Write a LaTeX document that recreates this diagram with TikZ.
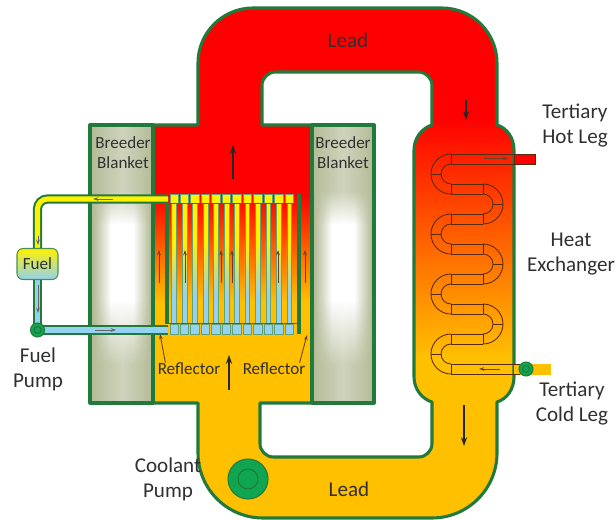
\documentclass[tikz,border=0pt]{standalone}
\usepackage{fontspec}
\setmainfont{Carlito}
\usepackage{tikz}
\usetikzlibrary{arrows, arrows.meta, fadings, positioning}

\definecolor{leadhot}{HTML}{FF0000}
\definecolor{leadcold}{HTML}{FFC000}
\definecolor{wallgreen}{HTML}{217A3B}
\definecolor{pumpgreen}{HTML}{10A550}
\definecolor{blanketcol}{HTML}{B4BB97}
\definecolor{fuelyellow}{HTML}{FFF200}
\definecolor{fuelblue}{HTML}{93D2F0}
\definecolor{coilcol}{HTML}{5A2A10}
\definecolor{labelcol}{HTML}{303030}

\tikzfading[name=fadedown, top color=transparent!100, bottom color=transparent!0]
\tikzfading[name=fadeup, top color=transparent!0, bottom color=transparent!100]
\pgfdeclarehorizontalshading{blanketglow}{100bp}{color(0bp)=(blanketcol); color(27bp)=(blanketcol); color(41bp)=(white); color(59bp)=(white); color(73bp)=(blanketcol); color(100bp)=(blanketcol)}

\tikzset{
	wall/.style={draw=wallgreen, line width=1.75pt, line join=round},
	biglabel/.style={font=\fontsize{12}{14.2}\selectfont, text=labelcol, align=center, inner sep=0pt},
	smalllabel/.style={font=\fontsize{9.7}{11.4}\selectfont, text=labelcol, align=center, inner sep=0pt},
	flowarrow/.style={-{Stealth[length=5pt,width=3.5pt]}, line width=1pt, draw=black!85},
	thinarrow/.style={-{Stealth[length=3pt,width=2pt]}, line width=.5pt, draw=coilcol!90},
	pipeout/.style={draw=wallgreen, line width=5.2pt, rounded corners=.2cm},
	pipein/.style={line width=2.9pt, rounded corners=.2cm},
	coil/.style={draw=coilcol, line width=.5pt},
	tubeedge/.style={draw=wallgreen!70!white, line width=.3pt},
	pumpbody/.style={circle, draw=wallgreen, fill=pumpgreen, line width=.6pt, inner sep=0pt},
	fuelbox/.style={draw=black!35!green!40!gray, line width=.6pt, rounded corners=.12cm, top color=fuelyellow, bottom color=fuelblue, minimum width=.82cm, minimum height=.62cm, inner sep=0pt}
}

\newcommand{\leadouter}{
	(90,125) -- (198,125) [rounded corners=1.1cm] -- (198,8) -- (497,8) [sharp corners] -- (497,125)
	.. controls (507,128) and (514,138) .. (514,150) -- (514,377)
	.. controls (514,389) and (507,399) .. (497,402) [rounded corners=1.3cm] -- (497,518) -- (198,518) [sharp corners] -- (198,403) -- (90,403) -- cycle}

\begin{document}
\begin{tikzpicture}[x=0.02cm, y=-0.02cm]
	\useasboundingbox (0,0) rectangle (616,520);

	% lead loop
	\begin{scope}
		\clip \leadouter;
		\fill[leadcold] (80,0) rectangle (520,520);
		\fill[leadhot] (150,0) rectangle (520,125);
		\fill[leadhot] (150,125) rectangle (315,195);
		\shade[top color=leadhot, bottom color=leadcold] (150,195) rectangle (315,302);
		\shade[top color=leadhot, bottom color=leadcold] (400,118) rectangle (520,358);
	\end{scope}
	\draw[wall] \leadouter;
	\filldraw[wall, fill=white] (262,125) [rounded corners=.27cm] -- (262,72) -- (432,72) [sharp corners] -- (432,125)
		.. controls (422,128) and (414,138) .. (414,150) -- (414,377)
		.. controls (414,389) and (422,399) .. (432,402) [rounded corners=.27cm] -- (432,457) -- (260,457) [sharp corners] -- (260,403) -- (374,403) -- (374,125) -- cycle;

	% blankets
	\foreach \bx/\name in {91/blanketl, 312/blanketr} {
		\shade[left color=blanketcol, right color=blanketcol, middle color=blanketcol!65!white] (\bx,126) rectangle ({\bx+62},402);
		\shade[shading=blanketglow, path fading=fadedown] (\bx,190) rectangle ({\bx+62},225);
		\shade[shading=blanketglow] (\bx,225) rectangle ({\bx+62},300);
		\shade[shading=blanketglow, path fading=fadeup] (\bx,300) rectangle ({\bx+62},365);
	}
	\draw[wall] (90,125) rectangle (153,403);
	\draw[wall] (312,125) rectangle (374,403);

	% fuel tubes
	\foreach \i in {0,...,11} {
		\pgfmathsetmacro{\tx}{174+10.48*\i}
		\fill[fuelyellow] ({\tx-2.4},203) rectangle ({\tx+2.4},242);
		\shade[top color=fuelyellow, bottom color=fuelblue] ({\tx-2.4},242) rectangle ({\tx+2.4},296);
		\fill[fuelblue] ({\tx-2.4},296) rectangle ({\tx+2.4},324);
		\draw[tubeedge] ({\tx-2.4},203) -- ({\tx-2.4},324) ({\tx+2.4},203) -- ({\tx+2.4},324);
		\filldraw[tubeedge, fill=fuelyellow] ({\tx-4.2},194.5) rectangle ({\tx+4.2},203);
		\filldraw[tubeedge, fill=fuelblue] ({\tx-4.2},324) rectangle ({\tx+4.2},334);
	}
	\draw[draw=wallgreen, line width=1.1pt] (167,203.5) -- (298,203.5);
	\draw[draw=wallgreen, line width=1.1pt] (167,323.5) -- (298,323.5);
	\draw[wall] (167,203) -- (167,324);
	\draw[wall] (299,194) -- (299,334);

	% fuel pipes
	\coordinate (hotport) at (168,199);
	\coordinate (coldport) at (168,330);
	\coordinate (fuelspot) at (37.5,264);
	\coordinate (pumpspot) at (37.5,330);
	\draw[pipeout] (hotport) -| (fuelspot);
	\draw[pipein, draw=fuelyellow] (hotport) -| (fuelspot);
	\draw[draw=wallgreen, line width=5.2pt] (fuelspot) -- (pumpspot) -- (coldport);
	\draw[draw=fuelblue, line width=2.9pt] (fuelspot) -- (pumpspot) -- (coldport);
	\node[fuelbox, smalllabel] (fuel) at (fuelspot) {Fuel};
	\node[pumpbody, minimum size=.28cm] (fuelpump) at (pumpspot) {};
	\node[pumpbody, minimum size=.14cm] (fuelpumpeye) at (pumpspot) {};

	% heat exchanger coil
	\foreach \cy in {174,234,294,354} {
		\draw[coil] (451,{\cy-20}) arc[start angle=270, end angle=90, radius=20];
		\draw[coil] (451,{\cy-10}) arc[start angle=270, end angle=90, radius=10];
		\draw[coil] (451,{\cy-20}) -- (451,{\cy-10}) (451,{\cy+10}) -- (451,{\cy+20}) (431,\cy) -- (441,\cy);
	}
	\foreach \cy in {204,264,324} {
		\draw[coil] (483,{\cy-20}) arc[start angle=-90, end angle=90, radius=20];
		\draw[coil] (483,{\cy-10}) arc[start angle=-90, end angle=90, radius=10];
		\draw[coil] (483,{\cy-20}) -- (483,{\cy-10}) (483,{\cy+10}) -- (483,{\cy+20}) (503,\cy) -- (493,\cy);
		\draw[coil] (451,{\cy-20}) -- (483,{\cy-20}) (451,{\cy-10}) -- (483,{\cy-10});
		\draw[coil] (451,{\cy+10}) -- (483,{\cy+10}) (451,{\cy+20}) -- (483,{\cy+20});
	}
	\filldraw[coil, fill=leadhot] (514,154) rectangle (535,164);
	\draw[coil] (451,154) -- (514,154) (451,164) -- (514,164);
	\filldraw[coil, fill=leadcold, draw=leadcold] (514,364) rectangle (550,374);
	\draw[coil] (451,364) -- (520,364) (451,374) -- (520,374);
	\node[pumpbody, minimum size=.28cm] (tertiarypump) at (526,369) {};
	\node[pumpbody, minimum size=.14cm] (tertiarypumpeye) at (526,369) {};

	% coolant pump
	\node[pumpbody, minimum size=.8cm] (coolantpump) at (248,479) {};
	\node[pumpbody, minimum size=.4cm] (coolantpumpeye) at (248,479) {};

	% flow arrows
	\draw[flowarrow] (233,179) -- (233,145);
	\draw[flowarrow] (229,390) -- (229,355);
	\draw[flowarrow] (466,100) -- (466,120);
	\draw[flowarrow] (464,405) -- (464,446);
	\foreach \ax in {159,185,221,232,278,305}
		\draw[thinarrow] (\ax,283) -- (\ax,250);
	\draw[thinarrow] (484,158.5) -- (508,158.5);
	\draw[thinarrow] (500,369) -- (479,369);
	\draw[thinarrow, draw=black!60, line width=.35pt] (113,199) -- (93,199);
	\draw[thinarrow, draw=black!60, line width=.35pt] (38,236) -- (38,245);
	\draw[thinarrow, draw=black!60, line width=.35pt] (38,285) -- (38,313);
	\draw[thinarrow, draw=black!60, line width=.35pt] (95,330) -- (116,330);

	% labels
	\node[biglabel] (leadtop) at (348,40) {Lead};
	\node[biglabel] (leadbot) at (349,489) {Lead};
	\node[biglabel] (hotleg) at (575,125.5) {Tertiary\\Hot Leg};
	\node[biglabel] (hx) at (571,254.5) {Heat\\Exchanger};
	\node[biglabel] (coldleg) at (572,403.5) {Tertiary\\Cold Leg};
	\node[biglabel] (fuelpumplabel) at (38,369.5) {Fuel\\Pump};
	\node[biglabel] (coolantlabel) at (168,479) {Coolant\\Pump};
	\node[smalllabel] (blanketltext) at (123,153) {Breeder\\Blanket};
	\node[smalllabel] (blanketrtext) at (343,153) {Breeder\\Blanket};
	\node[smalllabel] (reflectorl) at (189,369) {Reflector};
	\node[smalllabel] (reflectorr) at (274,369) {Reflector};
	\coordinate (reflectorltip) at (160,334);
	\coordinate (reflectorrtip) at (307,335);
	\draw[thinarrow] (reflectorl.north west) ++(8,0) -- (reflectorltip);
	\draw[thinarrow] (reflectorr.north east) ++(-6,0) -- (reflectorrtip);
\end{tikzpicture}
\end{document}
